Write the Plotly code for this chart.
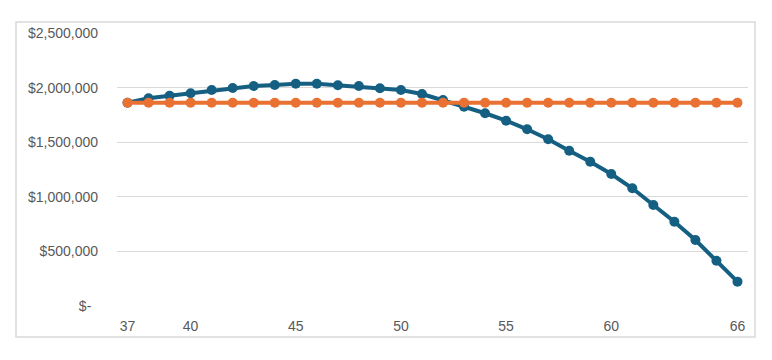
import plotly.graph_objects as go

ages = list(range(37, 67))
balance_a = [1862000, 1902000, 1926000, 1948000, 1978000, 1996000, 2015000, 2024000, 2036000, 2036000,
             2021000, 2015000, 1994000, 1978000, 1941000, 1886000, 1825000, 1765000, 1697000, 1618000,
             1527000, 1422000, 1321000, 1209000, 1078000, 925000, 772000, 604000, 415000, 223000]
balance_b = [1862000] * len(ages)

x_tickvals = [37, 40, 45, 50, 55, 60, 66]
y_tickvals = [0, 500000, 1000000, 1500000, 2000000, 2500000]
y_ticktext = ["$-\u00a0\u2009", "$500,000", "$1,000,000", "$1,500,000", "$2,000,000", "$2,500,000"]

blue = "#156082"
orange = "#E97132"

fig = go.Figure()
fig.add_trace(go.Scatter(x=ages, y=balance_a, mode="lines+markers",
                         line=dict(color=blue, width=4), marker=dict(color=blue, size=10),
                         showlegend=False))
fig.add_trace(go.Scatter(x=ages, y=balance_b, mode="lines+markers",
                         line=dict(color=orange, width=4), marker=dict(color=orange, size=10),
                         showlegend=False))

# page has an 8px body margin; compensate so the chart lands where the reference has it
OFF = 8
W, H = 772 - 2 * OFF, 360 - 2 * OFF
L, T = 117 - OFF, 33 - OFF
R = W - (748 - OFF)
B = H - (306 - OFF)
pw = W - L - R
ph = H - T - B

fig.update_layout(
    width=W, height=H,
    margin=dict(l=L, r=R, t=T, b=B),
    paper_bgcolor="white", plot_bgcolor="white",
    font=dict(family="Liberation Sans, Arial, sans-serif", size=14, color="#595959"),
    xaxis=dict(range=[36.5, 66.5], tickvals=x_tickvals, showgrid=False, zeroline=False,
               showline=False, ticks="", ticklabelstandoff=10),
    yaxis=dict(range=[0, 2500000], tickvals=y_tickvals, ticktext=y_ticktext,
               showgrid=True, gridcolor="#d9d9d9", gridwidth=1, zeroline=False,
               showline=False, ticks="", ticklabelstandoff=18),
    shapes=[dict(type="rect", xref="paper", yref="paper",
                 x0=(16 - OFF - L) / pw, x1=(755 - OFF - L) / pw,
                 y0=(H - B - (337 - OFF)) / ph, y1=(H - B - (22 - OFF)) / ph,
                 line=dict(color="#d9d9d9", width=1.5), layer="below")],
)

fig.write_html("out.html")
